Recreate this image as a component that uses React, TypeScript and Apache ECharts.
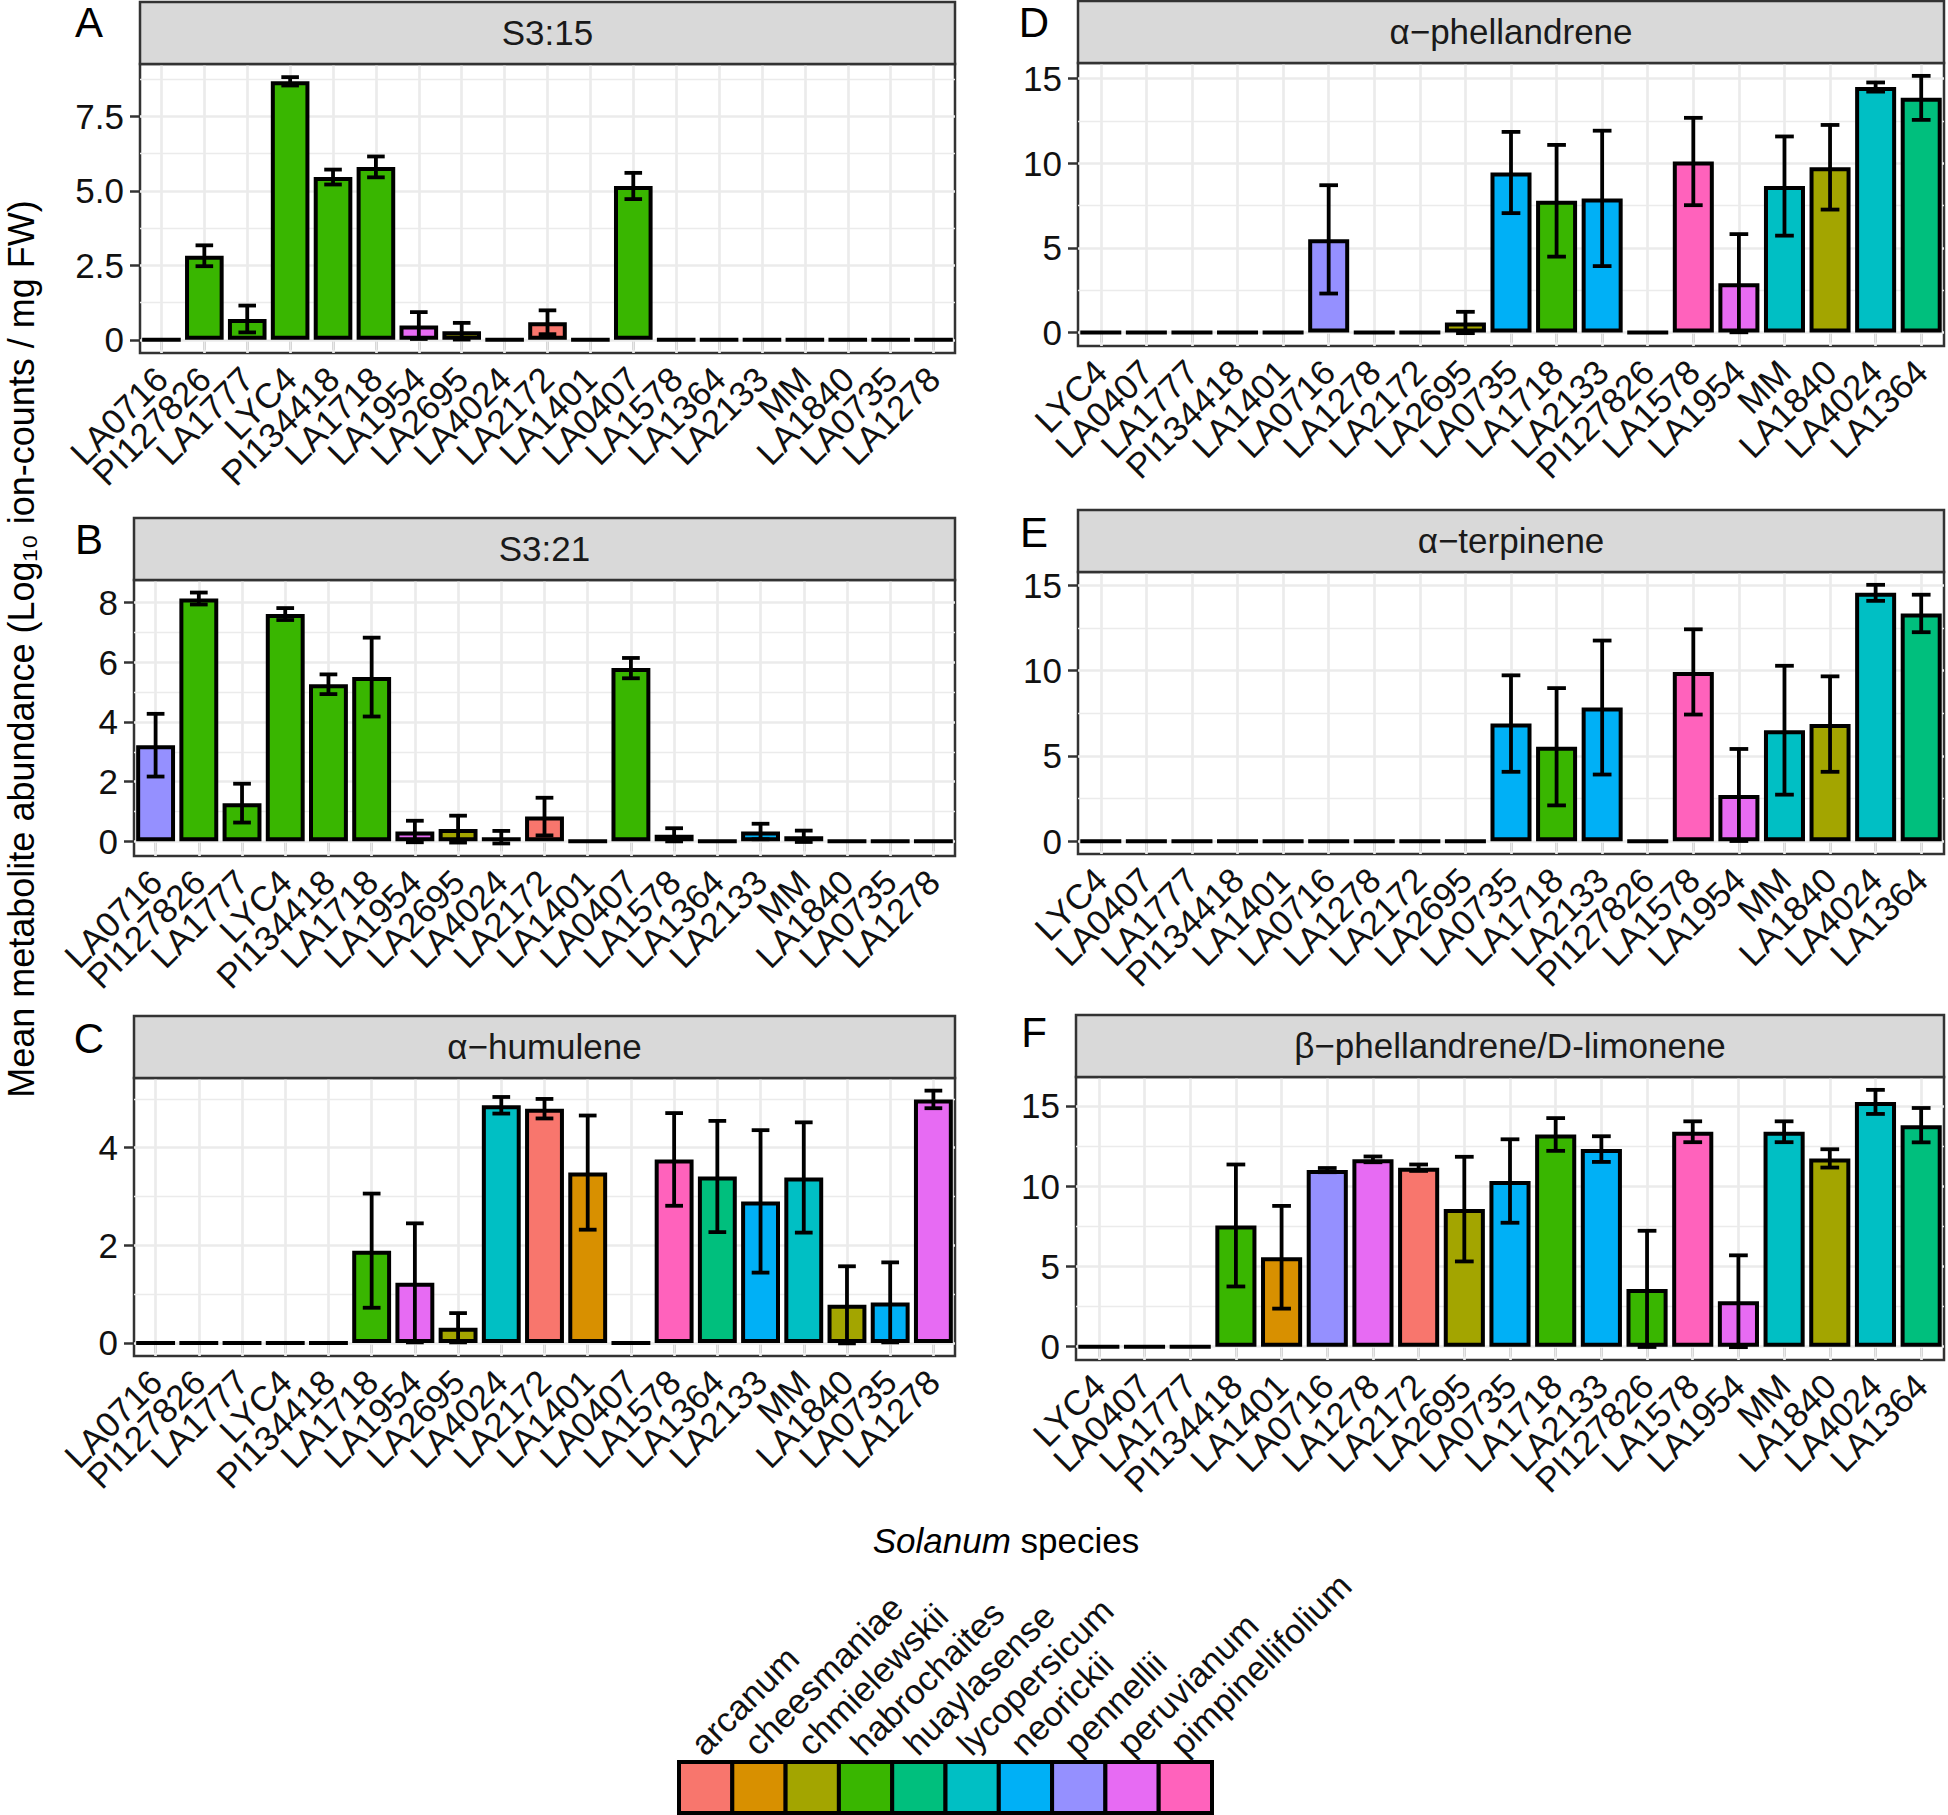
import React, { useEffect, useRef } from 'react';
import * as echarts from 'echarts';

// ---------- data ----------
const SPECIES = ['arcanum', 'cheesmaniae', 'chmielewskii', 'habrochaites', 'huaylasense', 'lycopersicum', 'neorickii', 'pennellii', 'peruvianum', 'pimpinellifolium'];
const SPECIES_COLORS = ['#F8766D', '#D89000', '#A3A500', '#39B600', '#00BF7D', '#00BFC4', '#00B0F6', '#9590FF', '#E76BF3', '#FF62BC'];

const ACCESSION_SPECIES: Record<string, string> = {
  LA0716: 'pennellii', PI127826: 'habrochaites', LA1777: 'habrochaites', LYC4: 'habrochaites',
  PI134418: 'habrochaites', LA1718: 'habrochaites', LA1954: 'peruvianum', LA2695: 'chmielewskii',
  LA4024: 'lycopersicum', LA2172: 'arcanum', LA1401: 'cheesmaniae', LA0407: 'habrochaites',
  LA1578: 'pimpinellifolium', LA1364: 'huaylasense', LA2133: 'neorickii', MM: 'lycopersicum',
  LA1840: 'chmielewskii', LA0735: 'neorickii', LA1278: 'peruvianum',
};

const ORDER_LEFT = ['LA0716', 'PI127826', 'LA1777', 'LYC4', 'PI134418', 'LA1718', 'LA1954', 'LA2695', 'LA4024', 'LA2172', 'LA1401', 'LA0407', 'LA1578', 'LA1364', 'LA2133', 'MM', 'LA1840', 'LA0735', 'LA1278'];
const ORDER_RIGHT = ['LYC4', 'LA0407', 'LA1777', 'PI134418', 'LA1401', 'LA0716', 'LA1278', 'LA2172', 'LA2695', 'LA0735', 'LA1718', 'LA2133', 'PI127826', 'LA1578', 'LA1954', 'MM', 'LA1840', 'LA4024', 'LA1364'];

const A_MEAN = [0, 2.82, 0.70, 8.67, 5.46, 5.80, 0.48, 0.29, 0, 0.59, 0, 5.16, 0, 0, 0, 0, 0, 0, 0];
const A_SE = [0, 0.35, 0.45, 0.14, 0.25, 0.35, 0.45, 0.28, 0, 0.40, 0, 0.44, 0, 0, 0, 0, 0, 0, 0];
const B_MEAN = [3.22, 8.13, 1.28, 7.61, 5.26, 5.50, 0.33, 0.41, 0.14, 0.83, 0, 5.80, 0.22, 0, 0.33, 0.17, 0, 0, 0];
const B_SE = [1.05, 0.20, 0.65, 0.20, 0.33, 1.32, 0.36, 0.45, 0.21, 0.63, 0, 0.34, 0.22, 0, 0.26, 0.19, 0, 0, 0];
const C_MEAN = [0, 0, 0, 0, 0, 1.89, 1.23, 0.31, 4.87, 4.80, 3.49, 0, 3.76, 3.41, 2.90, 3.39, 0.78, 0.83, 4.99];
const C_SE = [0, 0, 0, 0, 0, 1.17, 1.22, 0.30, 0.17, 0.20, 1.17, 0, 0.95, 1.14, 1.46, 1.13, 0.79, 0.82, 0.18];
const D_MEAN = [0, 0, 0, 0, 0, 5.50, 0, 0, 0.59, 9.45, 7.78, 7.92, 0, 10.10, 2.91, 8.65, 9.76, 14.50, 13.86];
const D_SE = [0, 0, 0, 0, 0, 3.20, 0, 0, 0.63, 2.40, 3.30, 4.00, 0, 2.58, 2.90, 2.93, 2.50, 0.27, 1.30];
const E_MEAN = [0, 0, 0, 0, 0, 0, 0, 0, 0, 6.90, 5.54, 7.84, 0, 9.93, 2.71, 6.51, 6.87, 14.57, 13.36];
const E_SE = [0, 0, 0, 0, 0, 0, 0, 0, 0, 2.83, 3.44, 3.93, 0, 2.50, 2.70, 3.78, 2.80, 0.47, 1.10];
const F_MEAN = [0, 0, 0, 7.55, 5.57, 11.00, 11.67, 11.15, 8.57, 10.32, 13.22, 12.31, 3.60, 13.39, 2.83, 13.39, 11.73, 15.25, 13.80];
const F_SE = [0, 0, 0, 3.80, 3.20, 0.13, 0.18, 0.20, 3.26, 2.60, 1.02, 0.80, 3.62, 0.65, 2.86, 0.65, 0.57, 0.75, 1.07];

const A_TICKS = [0, 2.5, 5, 7.5];
const A_TICK_LABELS = ['0', '2.5', '5.0', '7.5'];
const A_MINOR = [1.25, 3.75, 6.25, 8.75];
const B_TICKS = [0, 2, 4, 6, 8];
const B_TICK_LABELS = ['0', '2', '4', '6', '8'];
const B_MINOR = [1, 3, 5, 7];
const C_TICKS = [0, 2, 4];
const C_TICK_LABELS = ['0', '2', '4'];
const C_MINOR = [1, 3, 5];
const R_TICKS = [0, 5, 10, 15];
const R_TICK_LABELS = ['0', '5', '10', '15'];
const R_MINOR = [2.5, 7.5, 12.5];

const TITLES = ['S3:15', 'S3:21', 'α−humulene', 'α−phellandrene', 'α−terpinene', 'β−phellandrene/D-limonene'];
const LETTERS = ['A', 'B', 'C', 'D', 'E', 'F'];
const Y_TITLE = 'Mean metabolite abundance (Log₁₀ ion-counts / mg FW)';

// ---------- layout ----------
const FONT = "'Liberation Sans', Arial, Helvetica, sans-serif";
const FS = 35;
const STRIP_H = 62;
const GRIDS = [
  { left: 140, top: 64, width: 815, height: 289 },
  { left: 134, top: 580, width: 821, height: 276 },
  { left: 134, top: 1078, width: 821, height: 278 },
  { left: 1078, top: 63, width: 866, height: 283 },
  { left: 1078, top: 572, width: 866, height: 282 },
  { left: 1076, top: 1077, width: 868, height: 283 },
];
const LETTER_POS = [[89, 22], [89, 539], [89, 1038], [1034, 22], [1034, 532], [1034, 1032]];

const PANELS = [
  { cats: ORDER_LEFT, mean: A_MEAN, se: A_SE, ticks: A_TICKS, labels: A_TICK_LABELS, minor: A_MINOR },
  { cats: ORDER_LEFT, mean: B_MEAN, se: B_SE, ticks: B_TICKS, labels: B_TICK_LABELS, minor: B_MINOR },
  { cats: ORDER_LEFT, mean: C_MEAN, se: C_SE, ticks: C_TICKS, labels: C_TICK_LABELS, minor: C_MINOR },
  { cats: ORDER_RIGHT, mean: D_MEAN, se: D_SE, ticks: R_TICKS, labels: R_TICK_LABELS, minor: R_MINOR },
  { cats: ORDER_RIGHT, mean: E_MEAN, se: E_SE, ticks: R_TICKS, labels: R_TICK_LABELS, minor: R_MINOR },
  { cats: ORDER_RIGHT, mean: F_MEAN, se: F_SE, ticks: R_TICKS, labels: R_TICK_LABELS, minor: R_MINOR },
];

const colorOf = (acc: string) => SPECIES_COLORS[SPECIES.indexOf(ACCESSION_SPECIES[acc])];

function range(mean: number[], se: number[]) {
  let hi = 0;
  let lo = 0;
  mean.forEach((m, i) => {
    hi = Math.max(hi, m + se[i]);
    lo = Math.min(lo, m - se[i]);
  });
  const pad = (hi - lo) * 0.05;
  return [lo - pad, hi + pad];
}

function buildOption() {
  const grid: any[] = [];
  const xAxis: any[] = [];
  const yAxis: any[] = [];
  const series: any[] = [];
  const graphic: any[] = [];

  PANELS.forEach((p, i) => {
    const g = GRIDS[i];
    const [ymin, ymax] = range(p.mean, p.se);
    grid.push({ ...g, show: true, backgroundColor: '#fff', borderColor: '#333', borderWidth: 2.5 });
    xAxis.push({
      type: 'category', gridIndex: i, data: p.cats,
      axisLine: { show: false },
      axisTick: { show: true, alignWithLabel: true, interval: 0, length: 10, lineStyle: { color: '#333', width: 2.5 } },
      axisLabel: { interval: 0, rotate: 45, margin: 20, padding: [17, 0, 0, 0], fontSize: FS, fontFamily: FONT, color: '#111' },
      splitLine: { show: false },
    });
    yAxis.push({
      type: 'value', gridIndex: i, min: ymin, max: ymax,
      axisLine: { show: false },
      axisTick: { show: true, customValues: p.ticks, length: 10, lineStyle: { color: '#333', width: 2.5 } },
      axisLabel: {
        customValues: p.ticks, margin: 16, fontSize: FS, fontFamily: FONT, color: '#111',
        formatter: (v: number) => {
          const k = p.ticks.findIndex((t) => Math.abs(t - v) < 1e-6);
          return k >= 0 ? p.labels[k] : '';
        },
      },
      splitLine: { show: false },
    });

    const gridLines: any[] = [];
    p.minor.filter((v) => v > ymin && v < ymax).forEach((v) => gridLines.push({ yAxis: v, lineStyle: { color: '#EBEBEB', width: 1.3, type: 'solid' } }));
    p.ticks.forEach((v) => gridLines.push({ yAxis: v, lineStyle: { color: '#EBEBEB', width: 2.7, type: 'solid' } }));
    p.cats.forEach((_c, k) => gridLines.push({ xAxis: k, lineStyle: { color: '#EBEBEB', width: 2.7, type: 'solid' } }));

    series.push({
      type: 'line', xAxisIndex: i, yAxisIndex: i, data: [], z: 1, silent: true,
      markLine: { z: 1, silent: true, symbol: ['none', 'none'], label: { show: false }, animation: false, data: gridLines },
    });
    series.push({
      type: 'bar', xAxisIndex: i, yAxisIndex: i, z: 3, barWidth: '90%', silent: true,
      data: p.mean.map((v, k) => ({ value: v, itemStyle: { color: colorOf(p.cats[k]) } })),
      itemStyle: { borderColor: '#000', borderWidth: 4 },
    });
    series.push({
      type: 'custom', xAxisIndex: i, yAxisIndex: i, z: 4, silent: true,
      encode: { x: 0, y: 1 },
      data: p.mean.map((m, k) => [k, m, p.se[k]]),
      renderItem: (_params: any, api: any) => {
        const idx = api.value(0);
        const m = api.value(1);
        const s = api.value(2);
        if (!s) return null;
        const top = api.coord([idx, m + s]);
        const bot = api.coord([idx, m - s]);
        const hw = api.size([1, 0])[0] * 0.205;
        const st = { stroke: '#000', lineWidth: 3.8 };
        return {
          type: 'group',
          children: [
            { type: 'line', shape: { x1: top[0], y1: top[1], x2: bot[0], y2: bot[1] }, style: st },
            { type: 'line', shape: { x1: top[0] - hw, y1: top[1], x2: top[0] + hw, y2: top[1] }, style: st },
            { type: 'line', shape: { x1: bot[0] - hw, y1: bot[1], x2: bot[0] + hw, y2: bot[1] }, style: st },
          ],
        };
      },
    });

    // strip
    graphic.push({
      type: 'rect', shape: { x: g.left, y: g.top - STRIP_H, width: g.width, height: STRIP_H },
      style: { fill: '#D9D9D9', stroke: '#333', lineWidth: 2.5 }, z: 10,
    });
    graphic.push({
      type: 'text', x: g.left + g.width / 2, y: g.top - STRIP_H / 2 - 1, z: 11,
      style: { text: TITLES[i], fontSize: FS, fontFamily: FONT, fill: '#1a1a1a', align: 'center', verticalAlign: 'middle' },
    });
    graphic.push({
      type: 'text', x: LETTER_POS[i][0], y: LETTER_POS[i][1], z: 11,
      style: { text: LETTERS[i], fontSize: 42, fontFamily: FONT, fill: '#000', align: 'center', verticalAlign: 'middle' },
    });
  });

  // axis titles
  graphic.push({
    type: 'text', x: 21, y: 649, rotation: Math.PI / 2, z: 11,
    style: { text: Y_TITLE, fontSize: 36, fontFamily: FONT, fill: '#000', align: 'center', verticalAlign: 'middle' },
  });
  graphic.push({
    type: 'text', x: 1006, y: 1540, z: 11,
    style: {
      text: '{it|Solanum} species', fontSize: FS, fontFamily: FONT, fill: '#000', align: 'center', verticalAlign: 'middle',
      rich: { it: { fontStyle: 'italic', fontSize: FS, fontFamily: FONT, fill: '#000' } },
    },
  });

  // legend
  const keyW = 53.3;
  const keyH = 51;
  const keyX0 = 679;
  const keyY = 1762;
  SPECIES.forEach((sp, k) => {
    const x = keyX0 + k * keyW;
    graphic.push({
      type: 'rect', shape: { x, y: keyY, width: keyW, height: keyH },
      style: { fill: SPECIES_COLORS[k], stroke: '#000', lineWidth: 4 }, z: 10,
    });
    graphic.push({
      type: 'text', x: x + keyW / 2 + 3, y: keyY - 1, rotation: Math.PI / 4, z: 11,
      style: { text: sp, fontSize: FS, fontFamily: FONT, fill: '#111', align: 'left', verticalAlign: 'bottom' },
    });
  });

  return { animation: false, grid, xAxis, yAxis, series, graphic };
}

export default function App() {
  const ref = useRef<HTMLDivElement>(null);
  useEffect(() => {
    if (!ref.current) return;
    const chart = echarts.init(ref.current, undefined, { renderer: 'svg' });
    chart.setOption(buildOption() as any);
    return () => chart.dispose();
  }, []);
  return (
    <div
      ref={ref}
      style={{ position: 'fixed', left: 0, top: 0, width: 1948, height: 1815, background: '#fff' }}
    />
  );
}
